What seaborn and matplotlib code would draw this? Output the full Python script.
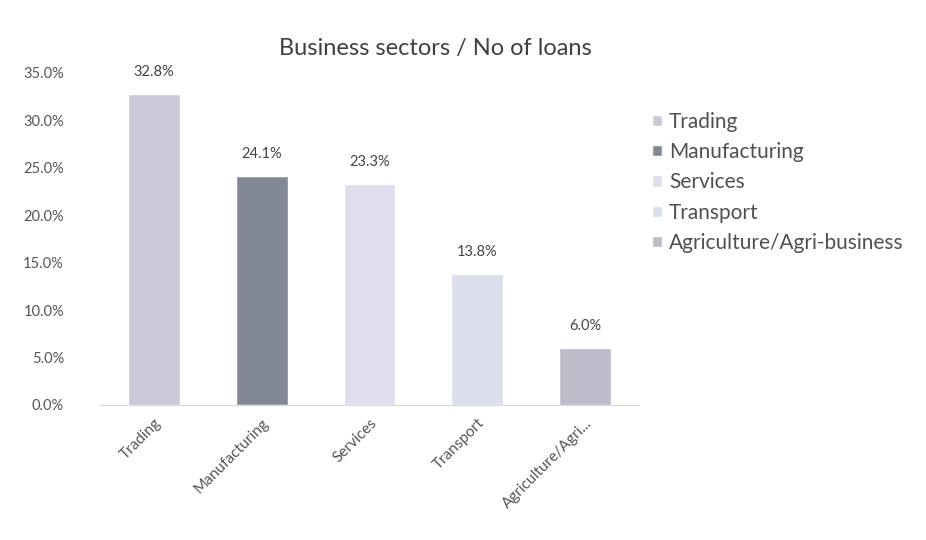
import matplotlib
matplotlib.use("Agg")
import matplotlib.pyplot as plt
import seaborn as sns
import pandas as pd
from matplotlib.ticker import PercentFormatter

sectors = ["Trading", "Manufacturing", "Services", "Transport", "Agriculture/Agri-business"]
tick_labels = ["Trading", "Manufacturing", "Services", "Transport", "Agriculture/Agri..."]
share = [32.8, 24.1, 23.3, 13.8, 6.0]
colors = ["#c6c6dc", "#7f8798", "#dedcee", "#d9dced", "#b9b9cb"]

sns.set_style("white")
plt.rcParams["font.family"] = ["Lato", "DejaVu Sans"]

df = pd.DataFrame({"sector": sectors, "share": share})

fig = plt.figure(figsize=(9.26, 5.4), dpi=100)
ax = fig.add_axes([0.108, 0.25, 0.582, 0.615])
sns.barplot(data=df, x="sector", y="share", hue="sector", palette=colors,
            width=0.48, dodge=False, legend=True, ax=ax)

# data labels
for i, v in enumerate(share):
    ax.text(i, v + 1.6, f"{v:.1f}%", ha="center", va="bottom", fontsize=10.5, color="#444444")

ax.set_ylim(0, 35)
ax.set_xlim(-0.5, 4.5)
ax.set_yticks([0, 5, 10, 15, 20, 25, 30, 35])
ax.yaxis.set_major_formatter(PercentFormatter(decimals=1))
ax.set_xticks(range(len(sectors)))
ax.set_xticklabels(tick_labels, rotation=45, ha="right", rotation_mode="anchor", fontsize=11, color="#555555")
ax.tick_params(axis="y", labelsize=10.5, labelcolor="#555555", length=0, pad=26)
ax.tick_params(axis="x", length=0, pad=8)
ax.set_xlabel("")
ax.set_ylabel("")
for s in ["top", "right", "left"]:
    ax.spines[s].set_visible(False)
ax.spines["bottom"].set_color("#d9d9d9")

fig.text(0.47, 0.91, "Business sectors / No of loans", ha="center", va="center",
         fontsize=17, color="#404040")

handles, labels = ax.get_legend_handles_labels()
leg = ax.legend(handles, labels, loc="upper left", bbox_to_anchor=(0.99, 0.94), frameon=False,
                fontsize=15, handlelength=0.45, handleheight=0.45, handletextpad=0.35,
                labelspacing=0.5, labelcolor="#505050")

fig.savefig("out.png", dpi=100, facecolor="white")
